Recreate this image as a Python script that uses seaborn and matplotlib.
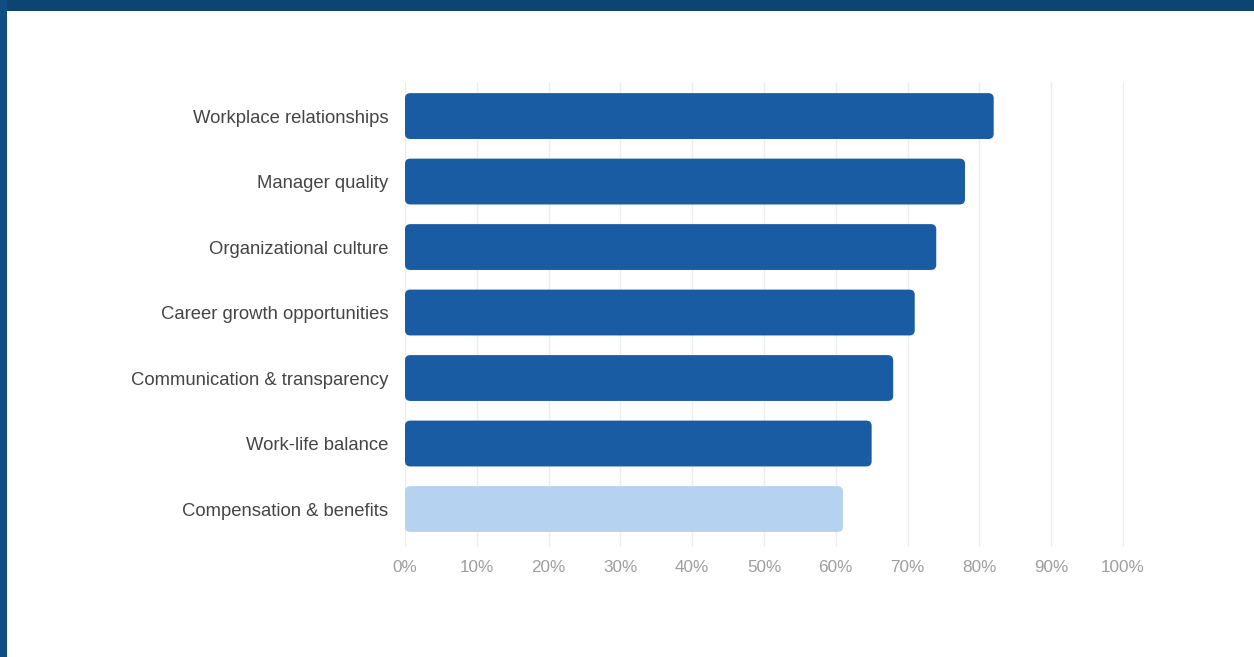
import matplotlib
matplotlib.use("Agg")
import matplotlib.pyplot as plt
import seaborn as sns
import pandas as pd
from matplotlib.patches import FancyBboxPatch, Rectangle

categories = ["Workplace relationships", "Manager quality", "Organizational culture",
              "Career growth opportunities", "Communication & transparency",
              "Work-life balance", "Compensation & benefits"]
values = [82, 78, 74, 71, 68, 65, 61]
highlight = ["dark", "dark", "dark", "dark", "dark", "dark", "light"]
xticks = [0, 10, 20, 30, 40, 50, 60, 70, 80, 90, 100]
xticklabels = [f"{t}%" for t in xticks]

sns.set_theme(style="white")
plt.rcParams['font.family'] = ['Liberation Sans', 'DejaVu Sans']

df = pd.DataFrame({"cat": categories, "val": values, "grp": highlight})
palette = {"dark": "#1a5ca3", "light": "#b5d3f1"}

fig = plt.figure(figsize=(12.54, 6.57), dpi=100)
fig.patch.set_facecolor("white")
ax = fig.add_axes([405/1254, 1-547/657, (1124-405)/1254, (547-82)/657])

sns.barplot(data=df, x="val", y="cat", hue="grp", palette=palette, dodge=False,
            width=0.70, legend=False, ax=ax, orient="h", saturation=1, zorder=3)

ax.set_xlim(0, 100.15)
ax.set_ylim(6.58, -0.52)
ax.set_xticks(xticks)
ax.set_xticklabels(xticklabels)
ax.set_xlabel("")
ax.set_ylabel("")
for s in ax.spines.values():
    s.set_visible(False)
ax.grid(axis="x", color="#ededed", linewidth=1.0, zorder=0)
ax.grid(axis="y", visible=False)
ax.set_axisbelow(True)
ax.tick_params(axis="x", length=0, pad=9, labelsize=12.3, labelcolor="#9e9e9e")
ax.tick_params(axis="y", length=0, pad=12, labelsize=13.3, labelcolor="#454545")

# replace bars with rounded versions using their geometry
for p in list(ax.patches):
    x0, y0 = p.get_x(), p.get_y()
    w, h = p.get_width(), p.get_height()
    if w <= 0:
        continue
    fc = p.get_facecolor()
    p.set_visible(False)
    rp = FancyBboxPatch((x0, y0), w, h,
                        boxstyle="round,pad=0,rounding_size=0.75",
                        mutation_aspect=0.105,
                        facecolor=fc, edgecolor="none", zorder=3)
    ax.add_patch(rp)

# frame border
fig.patches.append(Rectangle((0, 1-11/657), 1, 11/657, transform=fig.transFigure,
                             facecolor="#0d4470", edgecolor="none", zorder=10))
fig.patches.append(Rectangle((0, 0), 7/1254, 1, transform=fig.transFigure,
                             facecolor="#0f4e82", edgecolor="none", zorder=10))

fig.savefig("out.png", dpi=100)
